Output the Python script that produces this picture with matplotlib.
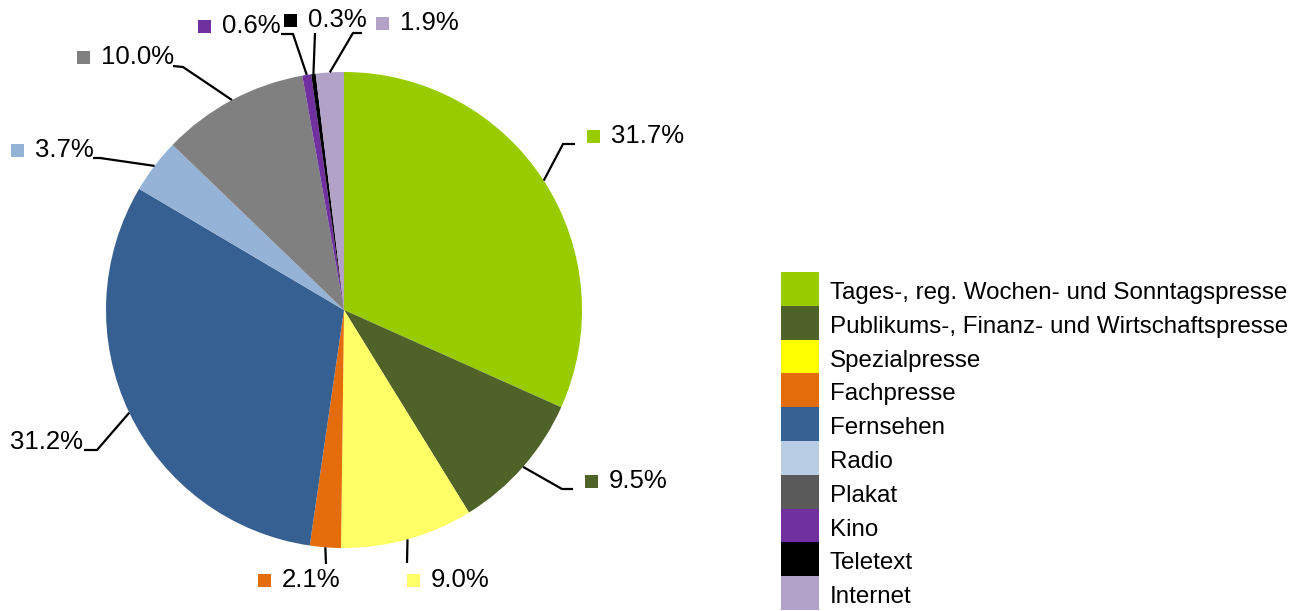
import numpy as np
import matplotlib
matplotlib.use("Agg")
import matplotlib.pyplot as plt
from matplotlib.patches import Rectangle

plt.rcParams['font.family'] = ['Liberation Sans', 'DejaVu Sans']

# data
categories = ["Tages-, reg. Wochen- und Sonntagspresse",
              "Publikums-, Finanz- und Wirtschaftspresse",
              "Spezialpresse", "Fachpresse", "Fernsehen", "Radio",
              "Plakat", "Kino", "Teletext", "Internet"]
shares = [31.7, 9.5, 9.0, 2.1, 31.2, 3.7, 10.0, 0.6, 0.3, 1.9]
pie_colors = ["#99CC00", "#4F6228", "#FFFF66", "#E46C0A", "#376092",
              "#95B3D7", "#808080", "#7030A0", "#000000", "#B3A2C7"]
legend_colors = ["#99CC00", "#4F6228", "#FFFF00", "#E46C0A", "#376092",
                 "#B9CDE5", "#595959", "#7030A0", "#000000", "#B3A2C7"]

W, H = 1307, 611
cx, cy, R = 344, 310, 238   # pie centre / radius in pixels (y from top)

# label layout in pixels (y from top): leader elbow, leader end, text x, text y, align
label_layout = [
    [(563, 144), (575, 144), 611, 136, 'left'],
    [(562, 489), (573, 489), 609, 481, 'left'],
    [(407, 563), None, 431, 580, 'left'],
    [(326, 564), None, 282, 580, 'left'],
    [(97, 450), (84, 450), 83, 442, 'right'],
    [(100, 158), (93, 158), 35, 150, 'left'],
    [(183, 67), (173, 66), 101, 57, 'left'],
    [(293, 34), (281, 34), 222, 26, 'left'],
    [(315, 33), None, 308, 20, 'left'],
    [(353, 33), (362, 33), 400, 23, 'left'],
]


def py(y):
    return H - y


fig = plt.figure(figsize=(W / 100, H / 100), dpi=100)
ax = fig.add_axes([0, 0, 1, 1])

ax.pie(shares, colors=pie_colors, startangle=90, counterclock=False,
       center=(cx, py(cy)), radius=R, frame=True,
       wedgeprops=dict(linewidth=0))

ax.set_xlim(0, W)
ax.set_ylim(0, H)
ax.set_aspect('equal')
ax.axis('off')

# labels with leader lines
fracs = np.array(shares) / np.sum(shares)
cum = np.cumsum(fracs)
mids = cum - fracs / 2
for i, (val, col) in enumerate(zip(shares, pie_colors)):
    ang = np.deg2rad(90 - 360 * mids[i])
    sx = cx + R * np.cos(ang)
    sy = cy - R * np.sin(ang)
    elbow, end, tx, ty, ha = label_layout[i]
    xs = [sx, elbow[0]]
    ys = [py(sy), py(elbow[1])]
    if end is not None:
        xs.append(end[0])
        ys.append(py(end[1]))
    ax.plot(xs, ys, color='black', lw=1.6, solid_capstyle='butt')
    txt = f"{val:.1f}%"
    if ha == 'left':
        ax.add_patch(Rectangle((tx - 24, py(ty) - 6.5), 13, 13,
                               facecolor=col, edgecolor='none'))
    ax.text(tx, py(ty), txt, fontsize=18.5, ha=ha, va='center',
            color='black')

# legend
row_h = 33.8
top = 272
for i, (name, col) in enumerate(zip(categories, legend_colors)):
    y0 = top + i * row_h
    ax.add_patch(Rectangle((781, py(y0 + row_h)), 38, row_h,
                           facecolor=col, edgecolor='none'))
    ax.text(830, py(y0 + row_h / 2 + 4), name, fontsize=17.4,
            ha='left', va='center', color='black')

fig.savefig("out.png", dpi=100)
